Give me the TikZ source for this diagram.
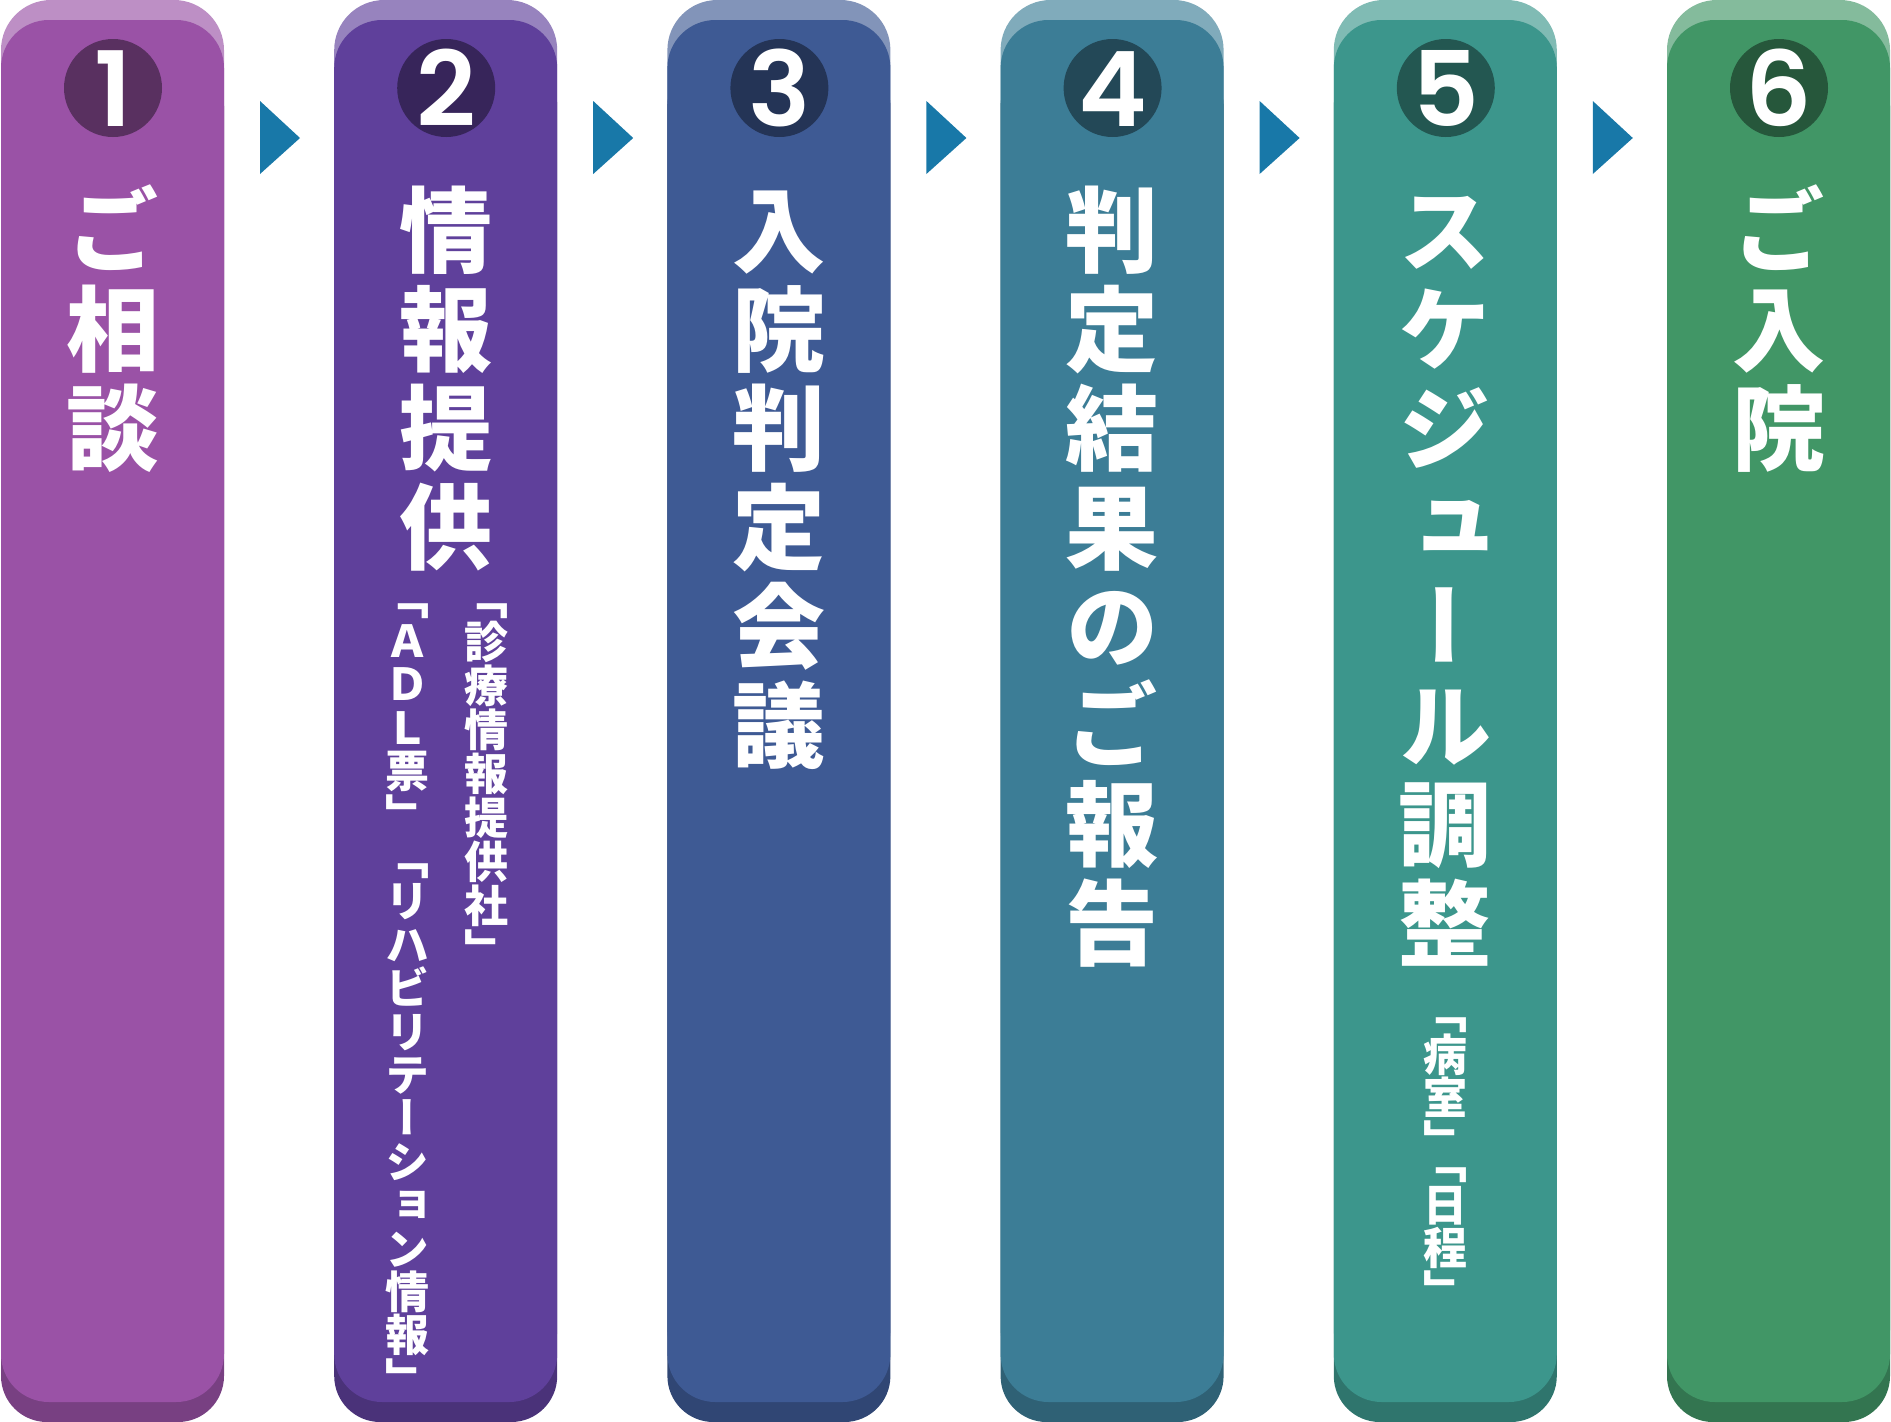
\documentclass[tikz,border=0pt]{standalone}
\usepackage{fontspec}
\newfontfamily\jpfont{Noto Sans CJK JP}[RawFeature=+vert]
\newfontfamily\numfont{Poppins SemiBold}
\definecolor{cA}{HTML}{9A52A6}
\definecolor{cB}{HTML}{5F409B}
\definecolor{cC}{HTML}{3E5A94}
\definecolor{cD}{HTML}{3C7D96}
\definecolor{cE}{HTML}{3C968C}
\definecolor{cF}{HTML}{419666}
\definecolor{arrowblue}{HTML}{1878A8}
\tikzset{
  maintext/.style={anchor=base, inner sep=0pt, text=white, font={\jpfont\bfseries\fontsize{93}{99}\selectfont}},
  subtext/.style={anchor=base, inner sep=0pt, text=white, font={\jpfont\bfseries\fontsize{44}{44}\selectfont}},
  numtext/.style={anchor=base, inner sep=0pt, text=white, font={\numfont\fontsize{104}{104}\selectfont}},
  stepmark/.style={fill=arrowblue},
}
\begin{document}
\begin{tikzpicture}[x=1pt,y=-1pt]
\useasboundingbox (0,0) rectangle (1891,1422);
% columns
\foreach \k/\col/\n in {1/cA/1,2/cB/2,3/cC/3,4/cD/4,5/cE/5,6/cF/6} {
  \pgfmathsetmacro\L{1+(\k-1)*333.2}
  \fill[\col!65!white, rounded corners=50pt] (\L,0) rectangle ++(223,1380);
  \fill[\col!78!black, rounded corners=46pt] (\L,60) rectangle ++(223,1362);
  \fill[\col, rounded corners=48pt] (\L,20) rectangle ++(223,1382);
  \fill[\col!58!black] (\L+112,88) circle[radius=49];
  \node[numtext] (num\k) at (\L+112,126) {\n};
}
% arrows between columns
\foreach \k in {1,...,5} {
  \pgfmathsetmacro\X{260+(\k-1)*333.2}
  \fill[stepmark] (\X,101) -- (\X+40,138) -- (\X,174) -- cycle;
}
% main texts
\foreach \c [count=\i from 0] in {ご,相,談}
  \node[maintext] (a\i) at (113,265+\i*99) {\c};
\foreach \c [count=\i from 0] in {情,報,提,供}
  \node[maintext] (b\i) at (446,265+\i*99) {\c};
\foreach \c [count=\i from 0] in {入,院,判,定,会,議}
  \node[maintext] (c\i) at (779,265+\i*99) {\c};
\foreach \c [count=\i from 0] in {判,定,結,果,の,ご,報,告}
  \node[maintext] (d\i) at (1112,265+\i*99) {\c};
\foreach \c [count=\i from 0] in {ス,ケ,ジ,ュ,ー,ル,調,整}
  \node[maintext] (e\i) at (1445,265+\i*99) {\c};
\foreach \c [count=\i from 0] in {ご,入,院}
  \node[maintext] (f\i) at (1779,265+\i*99) {\c};
% sub texts
\foreach \c [count=\i from 0] in {「,診,療,情,報,提,供,社,」}
  \node[subtext] (br\i) at (486,614+\i*44) {\c};
\foreach \c [count=\i from 0] in {「,Ａ,Ｄ,Ｌ,票,」,「,リ,ハ,ビ,リ,テ,ー,シ,ョ,ン,情,報,」}
  \node[subtext] (bl\i) at (407,614+\i*43.4) {\c};
\foreach \c/\p [count=\i from 0] in {「/0,病/1,室/2,{\rlap{」}\raisebox{-21.5pt}[0pt][20pt]{「}}/3,日/4.5,程/5.5,」/6.5}
  \node[subtext] (es\i) at (1445,1028+\p*43) {\c};
\end{tikzpicture}
\end{document}
